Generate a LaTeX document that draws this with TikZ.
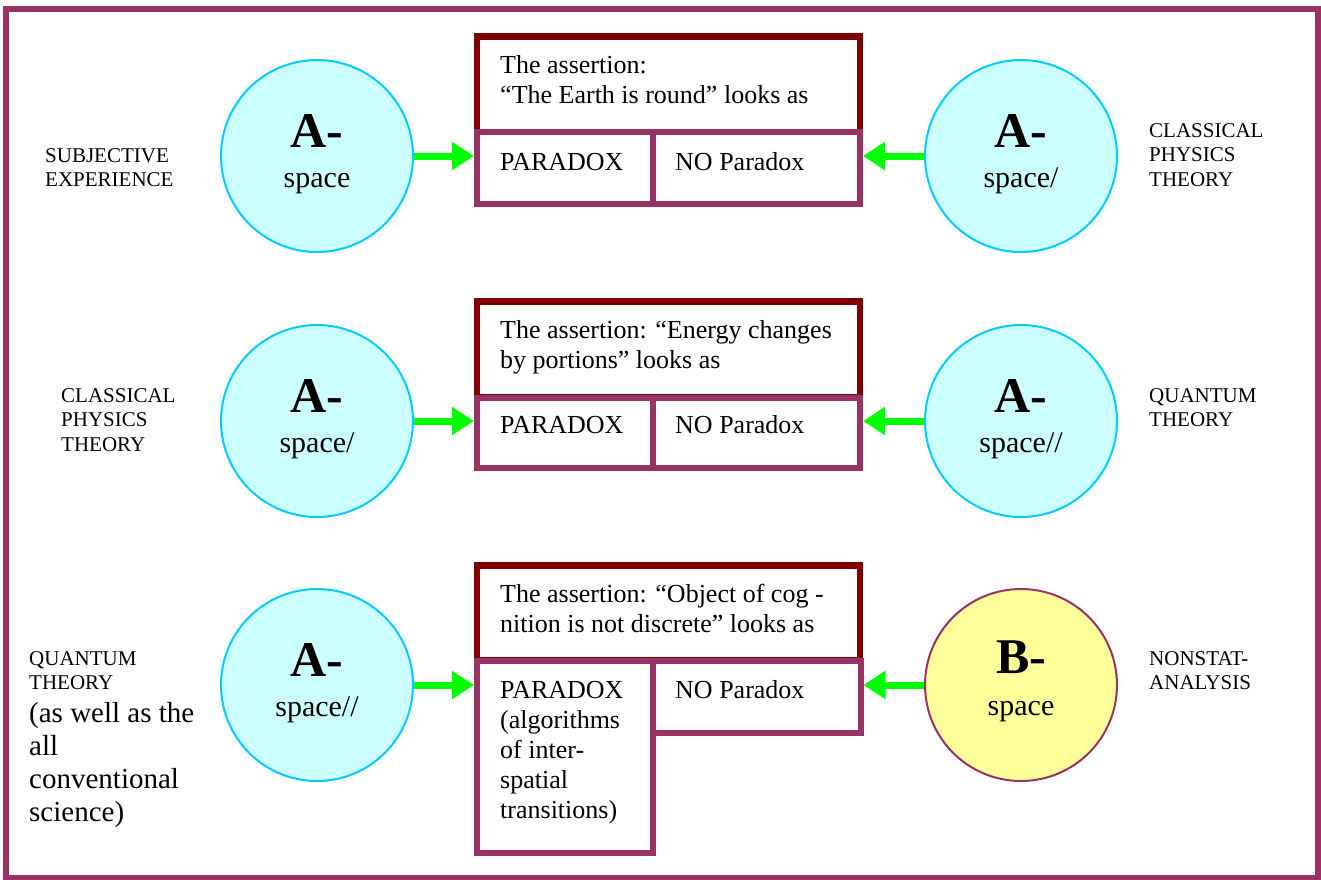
\documentclass[tikz,border=0pt]{standalone}
\usepackage{fontspec}
\setmainfont{Liberation Serif}
\usetikzlibrary{arrows.meta}

\definecolor{framepurple}{RGB}{153,51,102}
\definecolor{claimred}{RGB}{128,0,0}
\definecolor{skyline}{RGB}{0,204,255}
\definecolor{skyfill}{RGB}{204,255,255}
\definecolor{lemon}{RGB}{255,255,153}
\definecolor{feedgreen}{RGB}{0,255,0}

% left-aligned stack of lines; baseline of the whole block = first line
\newcommand\stacked[1]{\vtop{\halign{##\hfil\cr#1\crcr}}}

\tikzset{
  spacecircle/.style={circle, draw=skyline, fill=skyfill, line width=2pt,
    minimum size=192pt, inner sep=0pt},
  bcircle/.style={spacecircle, draw=framepurple, fill=lemon},
  claimbox/.style={rectangle, draw=claimred, line width=6.5pt, inner sep=0pt,
    anchor=north west, minimum width=383pt},
  verdictbox/.style={rectangle, draw=framepurple, line width=6pt, inner sep=0pt,
    anchor=north west},
  feed/.style={draw=feedgreen, line width=7pt, -{Triangle[length=22pt,width=27pt]}},
  bigletter/.style={font=\fontsize{50}{50}\selectfont\bfseries, anchor=base, inner sep=0pt},
  spaceword/.style={font=\fontsize{30}{30}\selectfont, anchor=base, inner sep=0pt},
  boxtext/.style={font=\fontsize{26}{30}\selectfont, anchor=base west, inner sep=0pt},
  sidetext/.style={font=\fontsize{21}{24.5}\selectfont, anchor=base west, inner sep=0pt},
  notetext/.style={font=\fontsize{29}{33}\selectfont, anchor=base west, inner sep=0pt},
}

\begin{document}
\begin{tikzpicture}[x=1pt, y=-1pt]
\useasboundingbox (0,0) rectangle (1321,879);

% outer frame
\draw[framepurple, line width=6pt] (6,9) rectangle (1318,878);

% ---------- row 1 ----------
\node[claimbox, minimum height=95.5pt] (claim1) at (473.75,33.25) {};
\node[verdictbox, minimum width=175.5pt, minimum height=71.5pt] (par1) at (474,129) {};
\node[verdictbox, minimum width=207.5pt, minimum height=71.5pt] (nopar1) at (649.5,129) {};
\node[boxtext] (claim1txt) at (500,73) {\stacked{The assertion:\cr “The Earth is round” looks as}};
\node[boxtext] (par1txt) at (500,170) {PARADOX};
\node[boxtext] (nopar1txt) at (675,170) {NO Paradox};

\node[spacecircle] (l1) at (317,156) {};
\node[bigletter] (l1a) at (317,147) {A-};
\node[spaceword] (l1b) at (317,187) {space};
\node[spacecircle] (r1) at (1021,156) {};
\node[bigletter] (r1a) at (1021,147) {A-};
\node[spaceword] (r1b) at (1021,187) {space/};

\node[sidetext] (l1lab) at (45,162) {\stacked{SUBJECTIVE\cr EXPERIENCE}};
\node[sidetext] (r1lab) at (1149,137) {\stacked{CLASSICAL\cr PHYSICS\cr THEORY}};

\draw[feed] (l1.east) -- (l1.east -| par1.west);
\draw[feed] (r1.west) -- (r1.west -| nopar1.east);

% ---------- row 2 ----------
\node[claimbox, minimum height=96pt] (claim2) at (473.75,298.25) {};
\node[verdictbox, minimum width=175.5pt, minimum height=70.5pt] (par2) at (474,394.5) {};
\node[verdictbox, minimum width=207.5pt, minimum height=70.5pt] (nopar2) at (649.5,394.5) {};
\node[boxtext] (claim2txt) at (500,338) {\stacked{The assertion: “Energy changes\cr by portions” looks as}};
\node[boxtext] (par2txt) at (500,433) {PARADOX};
\node[boxtext] (nopar2txt) at (675,433) {NO Paradox};

\node[spacecircle] (l2) at (317,421) {};
\node[bigletter] (l2a) at (317,412) {A-};
\node[spaceword] (l2b) at (317,452) {space/};
\node[spacecircle] (r2) at (1021,421) {};
\node[bigletter] (r2a) at (1021,412) {A-};
\node[spaceword] (r2b) at (1021,452) {space//};

\node[sidetext] (l2lab) at (61,402) {\stacked{CLASSICAL\cr PHYSICS\cr THEORY}};
\node[sidetext] (r2lab) at (1149,402) {\stacked{QUANTUM\cr THEORY}};

\draw[feed] (l2.east) -- (l2.east -| par2.west);
\draw[feed] (r2.west) -- (r2.west -| nopar2.east);

% ---------- row 3 ----------
\node[claimbox, minimum height=95pt] (claim3) at (473.75,562.25) {};
\node[verdictbox, minimum width=175.5pt, minimum height=192pt] (par3) at (474,657.5) {};
\node[verdictbox, minimum width=208pt, minimum height=72pt] (nopar3) at (649.5,657.5) {};
\node[boxtext] (claim3txt) at (500,602) {\stacked{The assertion: “Object of cog -\cr nition is not discrete” looks as}};
\node[boxtext] (par3txt) at (500,698) {\stacked{PARADOX\cr (algorithms\cr of inter-\cr spatial\cr transitions)}};
\node[boxtext] (nopar3txt) at (675,698) {NO Paradox};

\node[spacecircle] (l3) at (317,685) {};
\node[bigletter] (l3a) at (317,676) {A-};
\node[spaceword] (l3b) at (317,716) {space//};
\node[bcircle] (r3) at (1021,685) {};
\node[bigletter] (r3a) at (1021,673) {B-};
\node[spaceword] (r3b) at (1021,715) {space};

\node[sidetext, font=\fontsize{21}{24}\selectfont] (l3lab) at (29,665) {\stacked{QUANTUM\cr THEORY}};
\node[notetext] (l3note) at (29,722) {\stacked{(as well as the\cr all\cr conventional\cr science)}};
\node[sidetext] (r3lab) at (1149,665) {\stacked{NONSTAT-\cr ANALYSIS}};

\draw[feed] (l3.east) -- (l3.east -| par3.west);
\draw[feed] (r3.west) -- (r3.west -| nopar3.east);
\end{tikzpicture}
\end{document}
